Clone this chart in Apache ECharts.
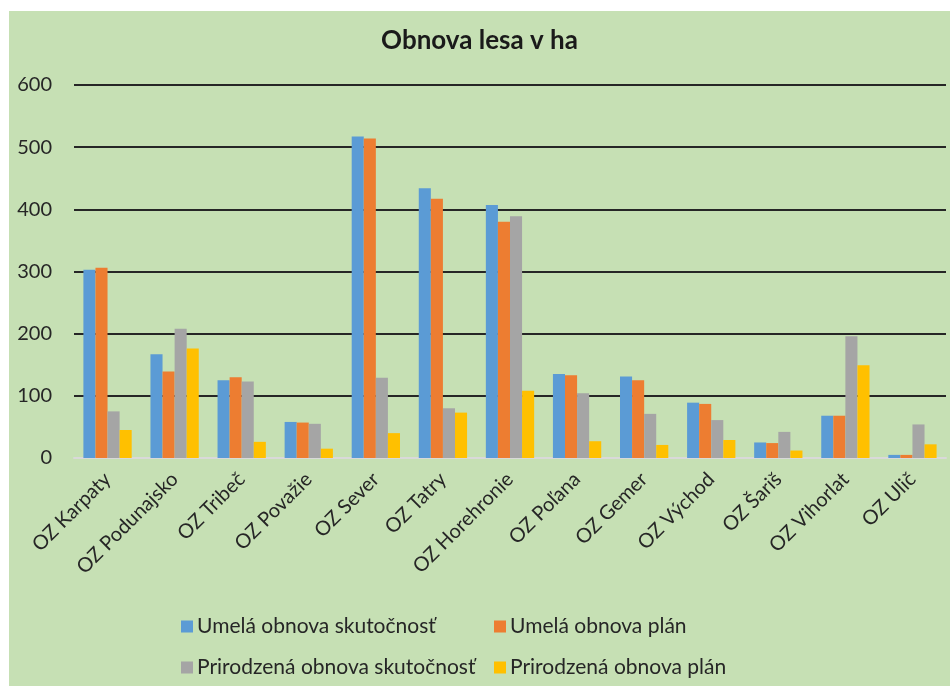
<!DOCTYPE html>
<html><head><meta charset="utf-8">
<script src="https://cdn.jsdelivr.net/npm/echarts@6/dist/echarts.min.js"></script>
<style>
html,body{margin:0;padding:0;background:#fff;width:950px;height:686px;overflow:hidden}
#c{position:absolute;left:9px;top:11px;width:941px;height:675px;background:#c6e0b4}
</style></head><body><div id="c"></div>
<script>
const categories = ["OZ Karpaty","OZ Podunajsko","OZ Tribeč","OZ Považie","OZ Sever","OZ Tatry","OZ Horehronie","OZ Poľana","OZ Gemer","OZ Východ","OZ Šariš","OZ Vihorlat","OZ Ulič"];
const seriesNames = ["Umelá obnova skutočnosť","Umelá obnova plán","Prirodzená obnova skutočnosť","Prirodzená obnova plán"];
const umelaSkut = [303,167,125,58,517,434,407,135,131,89,25,68,5];
const umelaPlan = [306,139,130,57,514,417,380,133,125,87,24,68,5];
const prirSkut  = [75,208,123,55,129,80,389,104,71,61,42,196,54];
const prirPlan  = [45,176,26,15,40,73,108,27,21,29,12,149,22];
const yTicks = [0,100,200,300,400,500,600];
const colors = ["#5b9bd5","#ed7d31","#a5a5a5","#ffc000"];
const font = "Lato, 'Open Sans', sans-serif";
const chart = echarts.init(document.getElementById('c'));
const values = [umelaSkut, umelaPlan, prirSkut, prirPlan];
const legendPos = [[172,605],[485,605],[172,646],[485,646]];
chart.setOption({
  animation:false,
  title:{text:"Obnova lesa v ha",left:'center',top:12,padding:[5,0,5,12],textStyle:{fontFamily:font,fontWeight:'bold',fontSize:26,color:'#1a1a1a'}},
  legend: seriesNames.map((n,i)=>({data:[n],left:legendPos[i][0],top:legendPos[i][1],padding:0,itemWidth:12,itemHeight:12,icon:'rect',itemGap:8,textStyle:{fontFamily:font,fontSize:21,color:'#262626',padding:[0,0,0,-1]}})),
  grid:{left:65,right:4,top:74,bottom:228},
  xAxis:{type:'category',data:categories,axisTick:{show:false},
    axisLine:{lineStyle:{color:'#d9d9d9',width:2}},
    axisLabel:{rotate:45,interval:0,fontFamily:font,fontSize:20,color:'#262626',margin:18}},
  yAxis:{type:'value',min:0,max:600,interval:100,
    axisLabel:{fontFamily:font,fontSize:20,color:'#262626',margin:22},
    splitLine:{lineStyle:{color:'#262626',width:2}},axisLine:{show:false},axisTick:{show:false}},
  series: seriesNames.map((n,i)=>({name:n,type:'bar',data:values[i],barGap:'0%',barCategoryGap:'28%',
    itemStyle:{color:colors[i]}}))
});
</script></body></html>
